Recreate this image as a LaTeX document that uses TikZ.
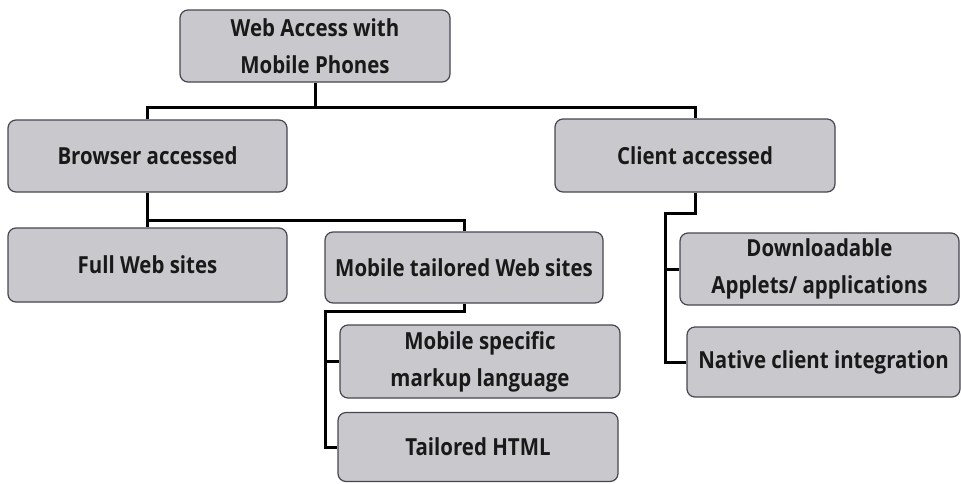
\documentclass[tikz,border=0pt]{standalone}
\usepackage{fontspec}
\setmainfont[FakeStretch=0.87]{Open Sans}
\usepackage{tikz}
\usetikzlibrary{positioning}
\definecolor{boxfill}{RGB}{200,200,205}
\definecolor{boxline}{RGB}{70,70,80}
\tikzset{
box/.style={
draw=boxline,
fill=boxfill,
rounded corners=8pt,
line width=1.2pt,
align=center,
inner sep=0pt,
text=black!90,
font=\fontsize{23.5}{37}\selectfont\bfseries
},
link/.style={
line width=3pt,
black
}
}
\begin{document}
\begin{tikzpicture}[x=1pt,y=-1pt]
\useasboundingbox (0,0) rectangle (961,483);

\node[box,minimum width=270pt,minimum height=72pt](root) at (315,46){Web Access with\\Mobile Phones};
\node[box,minimum width=279pt,minimum height=72pt](browser) at (147.5,156){Browser accessed};
\node[box,minimum width=280pt,minimum height=73pt](client) at (695,155.5){Client accessed};
\node[box,minimum width=279pt,minimum height=74pt](full) at (147.5,265){Full Web sites};
\node[box,minimum width=278pt,minimum height=71pt](tailored) at (464,267.5){Mobile tailored Web sites};
\node[box,minimum width=280pt,minimum height=73pt](specific) at (480,361.5){Mobile specific\\markup language};
\node[box,minimum width=280pt,minimum height=69pt](html) at (478,447){Tailored HTML};
\node[box,minimum width=279pt,minimum height=72pt](download) at (819.5,269){Downloadable\\Applets/ applications};
\node[box,minimum width=273pt,minimum height=70pt](native) at (823.5,362){Native client integration};

\coordinate (bus) at (root.south |- 0,107);
\coordinate (tbend) at (325,311);
\coordinate (cbend) at (665,213);

\draw[link](root.south)--(bus);
\draw[link](browser.north)|-(bus)-|(client.north);
\draw[link](browser.south)--(full.north);
\draw[link](browser.south)++(0,28)-|(tailored.north);
\draw[link](tailored.south)|-(tbend)|-(html.west);
\draw[link](tbend|-specific.west)--(specific.west);
\draw[link](client.south)|-(cbend)|-(native.west);
\draw[link](cbend|-download.west)--(download.west);

\end{tikzpicture}
\end{document}
